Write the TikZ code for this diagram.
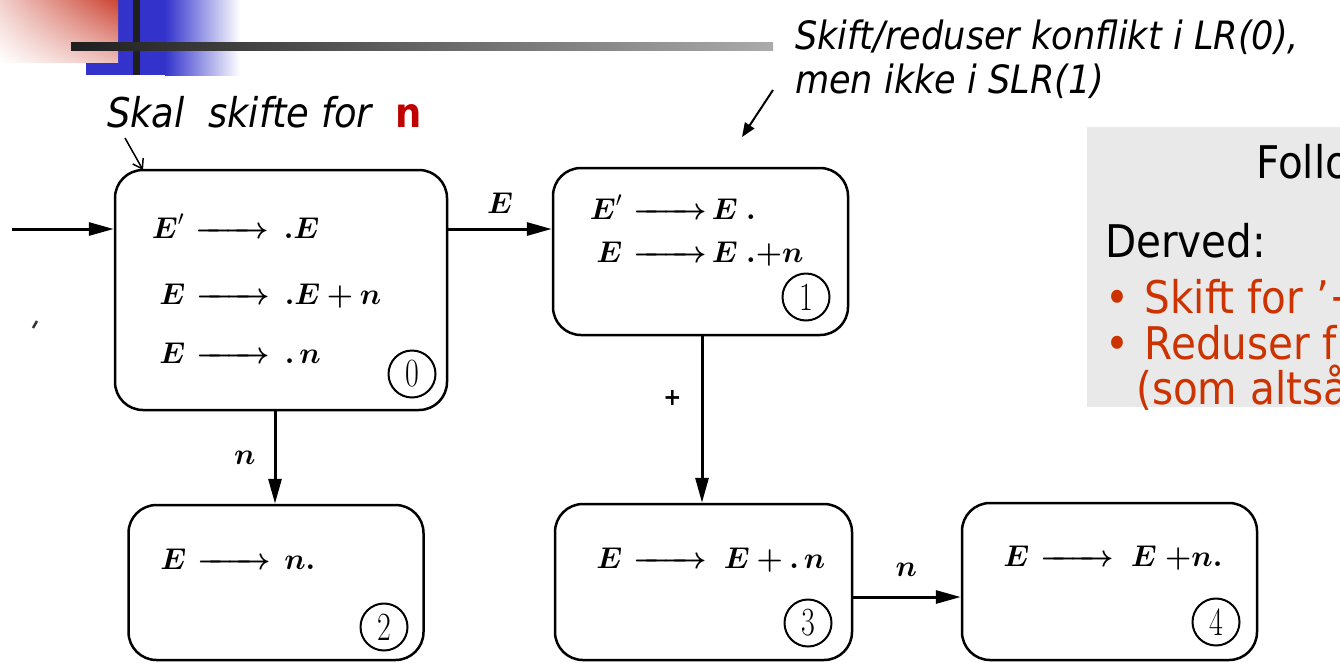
\RequirePackage{fix-cm}
\documentclass[tikz,border=0pt]{standalone}
\usepackage{amsmath}
\usepackage{fontspec}
\newfontfamily\tah[FakeStretch=0.9, ItalicFont={DejaVu Sans Oblique}, BoldFont={DejaVu Sans Bold}]{DejaVu Sans}
\usetikzlibrary{arrows.meta,shadings}
\definecolor{txtred}{HTML}{CC3300}
\definecolor{darkred}{HTML}{C00000}
\definecolor{greybox}{HTML}{E9E9E9}
\definecolor{decoblue}{HTML}{3333CC}
\definecolor{decored}{HTML}{CC4433}
\newcommand{\itm}[3][0.5em]{\makebox[1.3em][r]{$#2$}\hspace{0.37em}\makebox[2.45em]{\boldmath\rightarrowfill}\hspace{#1}$#3$}
\newcommand{\bE}{\boldsymbol{E}}
\newcommand{\bn}{\boldsymbol{n}}
\newcommand{\bp}{\mathbin{\text{\bfseries +}}}
\newcommand{\bpo}{\text{\bfseries +}}
\newcommand{\bd}{\boldsymbol{.}}
\newcommand{\dg}[1]{\scalebox{0.75}[1]{#1}}
\tikzset{
  statebox/.style={draw, line width=2.5pt, rounded corners=28pt, inner sep=0pt},
  prodtxt/.style={inner sep=0pt, anchor=base west, font=\fontsize{30}{34}\selectfont},
  numcirc/.style={draw, circle, line width=2pt, minimum size=47pt, inner sep=0pt, font=\fontsize{40}{44}\selectfont},
  trans/.style={line width=3pt, -{Triangle[length=25pt,width=13pt]}},
  elabel/.style={inner sep=0pt, font=\fontsize{30}{34}\selectfont},
  note/.style={inner sep=0pt, anchor=base west, font=\tah\fontsize{39}{44}\selectfont\itshape},
  boxtxt/.style={inner sep=0pt, anchor=base west, font=\tah\fontsize{45}{50}\selectfont},
}
\begin{document}
\begin{tikzpicture}[x=1pt, y=-1pt]
\useasboundingbox (0,0) rectangle (1340,662);
\clip (0,0) rectangle (1340,662);
% decoration
\fill[decoblue] (86,0) rectangle (166,75);
\shade[left color=decoblue, right color=white] (165,0) rectangle (240,75);
\shade[upper left=decored!25, upper right=decored, lower left=white, lower right=decored!35] (0,0) rectangle (118,62);
\fill[black!88] (133,0) rectangle (140,75);
\shade[left color=black!88, right color=black!33] (71,42) rectangle (773,50);
% grey box
\fill[greybox] (1087,127) rectangle (1345,407);
\node[boxtxt] (follo) at (1256,178) {Follo};
\node[boxtxt] (derved) at (1105,257) {Derved:};
\node[boxtxt, text=txtred] (b1) at (1105,313) {•\hspace{0.35em}Skift for ’+};
\node[boxtxt, text=txtred] (b2) at (1105,359) {•\hspace{0.35em}Reduser f};
\node[boxtxt, text=txtred] (b3) at (1136,404) {(som altså};
% notes
\node[note, font=\tah\fontsize{41}{46}\selectfont\itshape] (skal) at (107,127) {Skal\ \ skifte for\ \ {\upshape\bfseries\color{darkred}n}};
\node[note] (konf1) at (795,49) {Skift/reduser konflikt i LR(0),};
\node[note] (konf2) at (795,93) {men ikke i SLR(1)};
\coordinate (sa) at (125,138);
\coordinate (sb) at (143,170);
\draw[line width=1.5pt, -{Straight Barb[length=9pt,width=12pt]}] (sa) -- (sb);
\coordinate (ka) at (773,90);
\coordinate (kb) at (742,137);
\draw[line width=2pt, -{Triangle[length=14pt,width=11pt]}] (ka) -- (kb);
\draw[line width=2.5pt, black!80] (37,321) -- (33,328);
% states
\node[statebox, minimum width=332pt, minimum height=240pt] (s0) at (281,290) {};
\node[statebox, minimum width=295pt, minimum height=167pt] (s1) at (700.5,251.5) {};
\node[statebox, minimum width=295pt, minimum height=155pt] (s2) at (276,582.5) {};
\node[statebox, minimum width=297pt, minimum height=156pt] (s3) at (703.5,582) {};
\node[statebox, minimum width=295pt, minimum height=157pt] (s4) at (1109.5,581.5) {};
% productions
\node[prodtxt] (p01) at (145,238) {\itm{\bE'}{\bd\bE}};
\node[prodtxt] (p02) at (146,304) {\itm{\bE}{\bd\bE\bp\bn}};
\node[prodtxt] (p03) at (146,363) {\itm{\bE}{\bd\,\bn}};
\node[prodtxt] (p11) at (583,219) {\itm[0.17em]{\bE'}{\bE\;\bd}};
\node[prodtxt] (p12) at (583,262) {\itm[0.17em]{\bE}{\bE\;\bd\bpo\bn}};
\node[prodtxt] (p21) at (147,569) {\itm[0.45em]{\bE}{\boldsymbol{n.}}};
\node[prodtxt] (p31) at (583,568) {\itm[0.57em]{\bE}{\bE\bp\bd\,\bn}};
\node[prodtxt] (p41) at (990,566) {\itm[0.57em]{\bE}{\bE\;\bpo\boldsymbol{n.}}};
% state numbers
\node[numcirc] (c0) at (412,374) {\dg{0}};
\node[numcirc] (c1) at (806,297) {\dg{1}};
\node[numcirc] (c2) at (384,627) {\dg{2}};
\node[numcirc] (c3) at (808,623) {\dg{3}};
\node[numcirc] (c4) at (1216,622) {\dg{4}};
% transitions
\coordinate (start) at (12,229);
\draw[trans] (start) -- (start -| s0.west);
\draw[trans] (s0.east |- start) -- node[elabel, above=14pt] (le) {$\bE$} (s1.west |- start);
\draw[trans] ([xshift=-6pt]s0.south) -- node[elabel, left=18pt] (ln1) {$\bn$} ([xshift=-6pt]s0.south |- s2.north);
\draw[trans] ([xshift=1.5pt]s1.south) -- node[elabel, pos=0.37, left=19pt, font=\tah\bfseries\fontsize{24}{28}\selectfont] (lp) {+} ([xshift=1.5pt]s1.south |- s3.north);
\coordinate (m3) at (852,597);
\draw[trans] (m3) -- node[elabel, above=19pt] (ln2) {$\bn$} (m3 -| s4.west);
\end{tikzpicture}
\end{document}
